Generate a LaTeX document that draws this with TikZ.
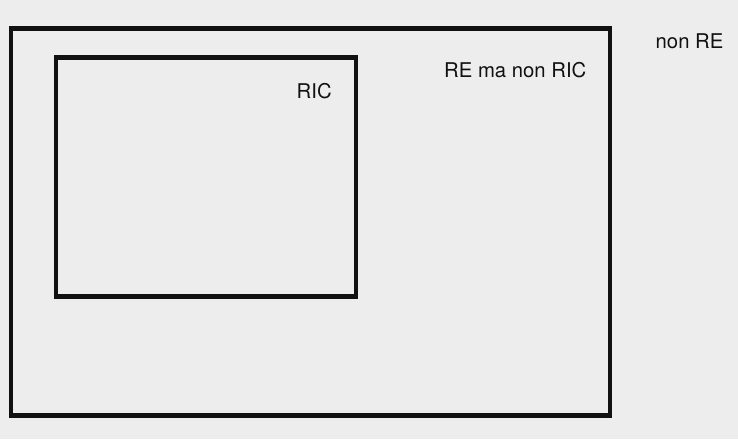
\documentclass[tikz,border=0pt]{standalone}
\usepackage{fontspec}
\setmainfont{TeX Gyre Heros}
\definecolor{bg}{HTML}{EDEDED}
\definecolor{ink}{HTML}{111111}
\begin{document}
\begin{tikzpicture}[x=1pt,y=-1pt,
  setbox/.style={draw=ink,line width=4.5pt,inner sep=0pt,fill=none},
  lbl/.style={anchor=base west,inner sep=0pt,text=ink,font=\fontsize{20.3}{24}\selectfont}]
\fill[bg] (0,0) rectangle (738,439);
\useasboundingbox (0,0) rectangle (738,439);
\draw[setbox] (11,28.5) rectangle (610,415.5);
\draw[setbox] (56,57.7) rectangle (356,296.5);
\node[lbl] (nonre) at (655.5,48.3) {non RE};
\node[lbl] (rema) at (444,77.7) {RE ma non RIC};
\node[lbl] (ric) at (296.5,98.3) {RIC};
\end{tikzpicture}
\end{document}
